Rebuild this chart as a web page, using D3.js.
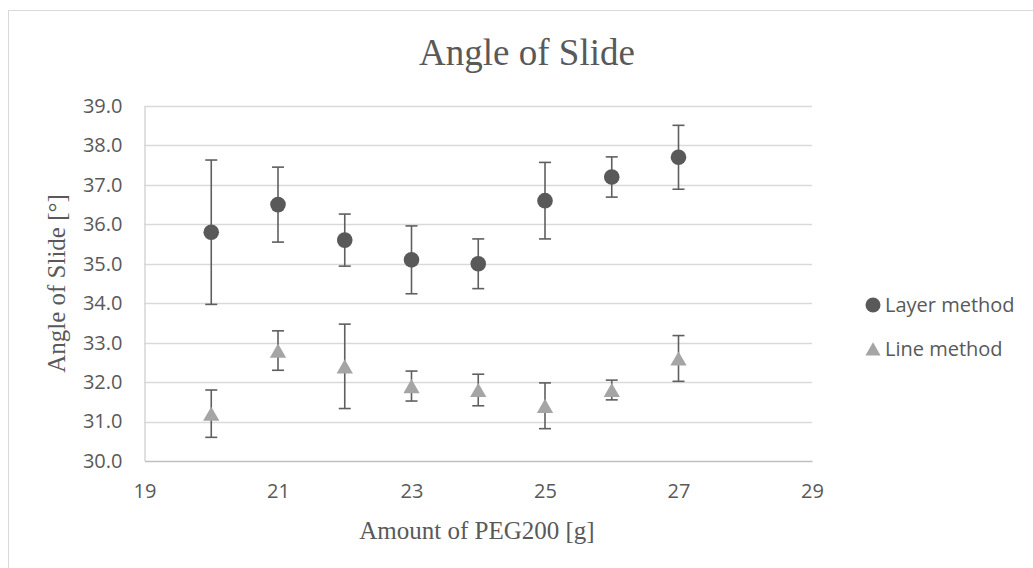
<!DOCTYPE html>
<html><head><meta charset="utf-8">
<script src="https://cdn.jsdelivr.net/npm/d3@7"></script>
<style>body{margin:0;background:#fff;}svg{display:block;}</style>
</head><body>
<script>
const xValues = [20, 21, 22, 23, 24, 25, 26, 27];
const layerValues = [35.8, 36.5, 35.6, 35.1, 35.0, 36.6, 37.2, 37.7];
const layerErrors = [1.83, 0.95, 0.66, 0.86, 0.63, 0.97, 0.51, 0.81];
const lineValues = [31.2, 32.8, 32.4, 31.9, 31.8, 31.4, 31.8, 32.6];
const lineErrors = [0.60, 0.50, 1.07, 0.38, 0.40, 0.58, 0.25, 0.58];
const xTicks = [19, 21, 23, 25, 27, 29];
const yTicks = [30, 31, 32, 33, 34, 35, 36, 37, 38, 39];
const seriesNames = ["Layer method", "Line method"];
const title = "Angle of Slide";
const xTitle = "Amount of PEG200 [g]";
const yTitle = "Angle of Slide [°]";

const W = 1033, H = 568;
const svg = d3.select("body").append("svg").attr("width", W).attr("height", H);

svg.append("rect").attr("x", 8.5).attr("y", 10.5).attr("width", 1100).attr("height", 700)
  .attr("fill", "#fff").attr("stroke", "#d9d9d9").attr("stroke-width", 1);

const x = d3.scaleLinear().domain([19, 29]).range([144.5, 812]);
const y = d3.scaleLinear().domain([30, 39]).range([461, 106]);

const sansFont = "'Open Sans', sans-serif";
const serifFont = "'Liberation Serif', 'Times New Roman', serif";
const textColor = "#595959";

// gridlines
svg.append("g").selectAll("line").data(yTicks.filter(d => d !== 30)).join("line")
  .attr("x1", x(19)).attr("x2", x(29))
  .attr("y1", d => Math.round(y(d)) + 0.5).attr("y2", d => Math.round(y(d)) + 0.5)
  .attr("stroke", "#d9d9d9").attr("stroke-width", 1.3);

// axes via d3
const yAxis = d3.axisLeft(y).tickValues(yTicks).tickFormat(d3.format(".1f")).tickSize(0).tickPadding(22);
const gy = svg.append("g").attr("transform", `translate(${x(19)},0)`).call(yAxis);
gy.select(".domain").attr("stroke", "#d0d0d0").attr("stroke-width", 1.3);
gy.selectAll("text").attr("font-family", sansFont).attr("font-size", 20).attr("fill", textColor);

const xAxis = d3.axisBottom(x).tickValues(xTicks).tickFormat(d3.format("d")).tickSize(0).tickPadding(23);
const gx = svg.append("g").attr("transform", `translate(0,${y(30)})`).call(xAxis);
gx.select(".domain").attr("stroke", "#bfbfbf").attr("stroke-width", 1.5);
gx.selectAll("text").attr("font-family", sansFont).attr("font-size", 20).attr("fill", textColor);

// error bars
function errorBars(vals, errs) {
  const g = svg.append("g").attr("stroke", "#5f5f5f").attr("stroke-width", 1.6).attr("fill", "none");
  xValues.forEach((xv, i) => {
    const cx = x(xv), top = y(vals[i] + errs[i]), bot = y(vals[i] - errs[i]);
    g.append("line").attr("x1", cx).attr("x2", cx).attr("y1", top).attr("y2", bot);
    g.append("line").attr("x1", cx - 6).attr("x2", cx + 6).attr("y1", top).attr("y2", top);
    g.append("line").attr("x1", cx - 6).attr("x2", cx + 6).attr("y1", bot).attr("y2", bot);
  });
}
errorBars(layerValues, layerErrors);
errorBars(lineValues, lineErrors);

const circleColor = "#595959", triColor = "#a5a5a5";
const triSym = d3.symbol().type(d3.symbolTriangle).size(115);

svg.append("g").selectAll("circle").data(xValues).join("circle")
  .attr("cx", d => x(d)).attr("cy", (d, i) => y(layerValues[i])).attr("r", 7.8)
  .attr("fill", circleColor);

svg.append("g").selectAll("path").data(xValues).join("path")
  .attr("d", triSym)
  .attr("transform", (d, i) => `translate(${x(d)},${y(lineValues[i]) + 2.4})`)
  .attr("fill", triColor);

// legend
const lg = svg.append("g");
lg.append("circle").attr("cx", 873).attr("cy", 305).attr("r", 7.5).attr("fill", circleColor);
lg.append("path").attr("d", d3.symbol().type(d3.symbolTriangle).size(100)).attr("transform", "translate(873,351)").attr("fill", triColor);
lg.selectAll("text").data(seriesNames).join("text")
  .attr("x", 885).attr("y", (d, i) => 305 + i * 44).attr("dy", "0.35em")
  .attr("font-family", sansFont).attr("font-size", 20).attr("fill", textColor)
  .text(d => d);

// titles
svg.append("text").attr("x", 527).attr("y", 65).attr("text-anchor", "middle")
  .attr("font-family", serifFont).attr("font-size", 37).attr("fill", textColor).text(title);
svg.append("text").attr("x", 477).attr("y", 539).attr("text-anchor", "middle")
  .attr("font-family", serifFont).attr("font-size", 25).attr("fill", textColor).text(xTitle);
svg.append("text").attr("transform", `translate(65,${(y(30) + y(39)) / 2}) rotate(-90)`)
  .attr("text-anchor", "middle")
  .attr("font-family", serifFont).attr("font-size", 25).attr("fill", textColor).text(yTitle);
</script>
</body></html>
